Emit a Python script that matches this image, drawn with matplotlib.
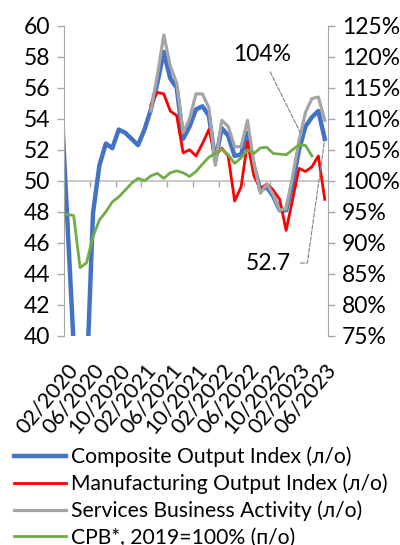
import matplotlib.pyplot as plt
import numpy as np
import pandas as pd

plt.rcParams['font.family'] = ['Lato', 'DejaVu Sans']

nan = np.nan

# monthly, 01/2020 .. 06/2023
months = pd.date_range('2020-01-01', '2023-06-01', freq='MS').strftime('%m/%Y')

composite = [55.8, 47.6, 39.4, 26.2, 36.9, 47.9, 51.0, 52.4, 52.1, 53.3,
             53.1, 52.7, 52.3, 53.3, 54.6, 56.3, 58.3, 56.6, 56.0, 52.7,
             53.5, 54.6, 54.8, 54.2, 51.3, 53.4, 52.9, 51.6, 51.7, 53.1,
             50.9, 49.4, 49.6, 49.0, 48.1, 48.1, 49.8, 52.0, 53.5, 54.1,
             54.5, 52.7]
manufacturing = [nan, nan, nan, nan, nan, nan, nan, nan, nan, nan,
                 nan, nan, nan, nan, 54.9, 55.7, 55.6, 54.5, 54.2, 51.8,
                 52.0, 51.6, 52.4, 53.3, 51.6, 52.1, 51.6, 48.7, 49.6, 52.5,
                 50.3, 49.5, 49.8, 49.4, 48.8, 46.8, 48.8, 50.8, 50.6, 50.9,
                 51.6, 48.8]
services = [nan, nan, nan, nan, nan, nan, nan, nan, nan, nan,
            nan, nan, nan, nan, 54.5, 56.8, 59.4, 57.4, 56.3, 53.1,
            54.0, 55.6, 55.6, 54.7, 51.0, 53.9, 53.5, 52.2, 52.2, 53.9,
            51.1, 49.2, 49.8, 49.1, 48.1, 48.2, 50.3, 52.6, 54.4, 55.3,
            55.4, 53.9]
cpb = [94.7, 94.6, 94.4, 86.0, 86.8, 91.0, 93.7, 95.0, 96.6, 97.4,
       98.5, 99.6, 100.4, 100.0, 100.8, 101.2, 100.4, 101.3, 101.6, 101.3,
       100.7, 101.5, 102.7, 103.8, 104.4, 105.1, 104.2, 102.8, 103.7, 105.0,
       104.4, 105.3, 105.4, 104.4, 104.3, 104.2, 105.0, 105.8, 105.7, 104.0,
       nan, nan]

tick_labels = ['02/2020', '06/2020', '10/2020', '02/2021', '06/2021', '10/2021',
               '02/2022', '06/2022', '10/2022', '02/2023', '06/2023']

x = np.arange(len(composite))
tick_pos = [list(months).index(t) for t in tick_labels]
axis_gray = '#A6A6A6'

fig = plt.figure(figsize=(4, 5.45), dpi=100)
ax = fig.add_axes([0.16, 0.3835, 0.66, 0.5695])

l1, = ax.plot(x, composite, color='#4472C4', lw=3.2, solid_joinstyle='round')
l2, = ax.plot(x, manufacturing, color='#FF0000', lw=2.0, solid_joinstyle='round')
l3, = ax.plot(x, services, color='#A5A5A5', lw=2.3, solid_joinstyle='round')
ax.axhline(50, color='#BFBFBF', lw=1.2, zorder=1)

ax.set_xlim(0.5, len(x) - 0.5)
ax.set_ylim(40, 60)
ax.set_yticks(np.arange(40, 61, 2))
ax.set_xticks(tick_pos, tick_labels, rotation=50, ha='right', rotation_mode='anchor')
ax.tick_params(axis='x', length=0, pad=17, labelsize=15.5)
ax.tick_params(axis='y', length=5, width=1, color=axis_gray, labelsize=16.5, pad=5)
for s in ['top', 'right', 'bottom']:
    ax.spines[s].set_visible(False)
ax.spines['left'].set_color(axis_gray)

# tick marks on the horizontal line at 50
sec = ax.secondary_xaxis((50 - 40) / (60 - 40))
sec.set_alignment('bottom')
sec.set_xticks(np.arange(0.5, len(x), 4))
sec.tick_params(length=4, width=1, color=axis_gray, labelbottom=False, labeltop=False)
for s in sec.spines.values():
    s.set_visible(False)

ax2 = ax.twinx()
l4, = ax2.plot(x[:len(cpb)], cpb, color='#70AD47', lw=2.0, solid_joinstyle='round')
ax2.set_ylim(75, 125)
ax2.set_yticks(np.arange(75, 126, 5))
ax2.yaxis.set_major_formatter('{x:.0f}%')
ax2.tick_params(axis='y', length=5, width=1, color=axis_gray, labelsize=16.5, pad=5)
for s in ['top', 'left', 'bottom']:
    ax2.spines[s].set_visible(False)
ax2.spines['right'].set_color(axis_gray)

last_cpb = max(i for i, v in enumerate(cpb) if not np.isnan(v))
ax2.annotate(f'{cpb[last_cpb]:.0f}%', xy=(last_cpb, cpb[last_cpb]), xytext=(31.2, 120.3),
             ha='center', va='center', fontsize=16.5,
             arrowprops=dict(arrowstyle='-', ls='--', color='#808080', lw=0.8,
                             shrinkA=3, shrinkB=19))
ax.annotate(f'{composite[-1]:.1f}', xy=(x[-1], composite[-1]), xytext=(32.2, 44.7),
            ha='center', va='center', fontsize=16.5,
            arrowprops=dict(arrowstyle='-', ls='--', color='#808080', lw=0.8,
                            connectionstyle='angle,angleA=0,angleB=82,rad=0',
                            shrinkA=5, shrinkB=0))

fig.legend([l1, l2, l3, l4],
           ['Composite Output Index (л/о)', 'Manufacturing Output Index (л/о)',
            'Services Business Activity (л/о)', 'CPB*, 2019=100% (п/о)'],
           loc='upper left', bbox_to_anchor=(0.035, 0.18), frameon=False,
           fontsize=15.2, handlelength=2.45, handletextpad=0.24, labelspacing=0.3,
           borderpad=0, borderaxespad=0)

plt.savefig('out.png', dpi=100)
